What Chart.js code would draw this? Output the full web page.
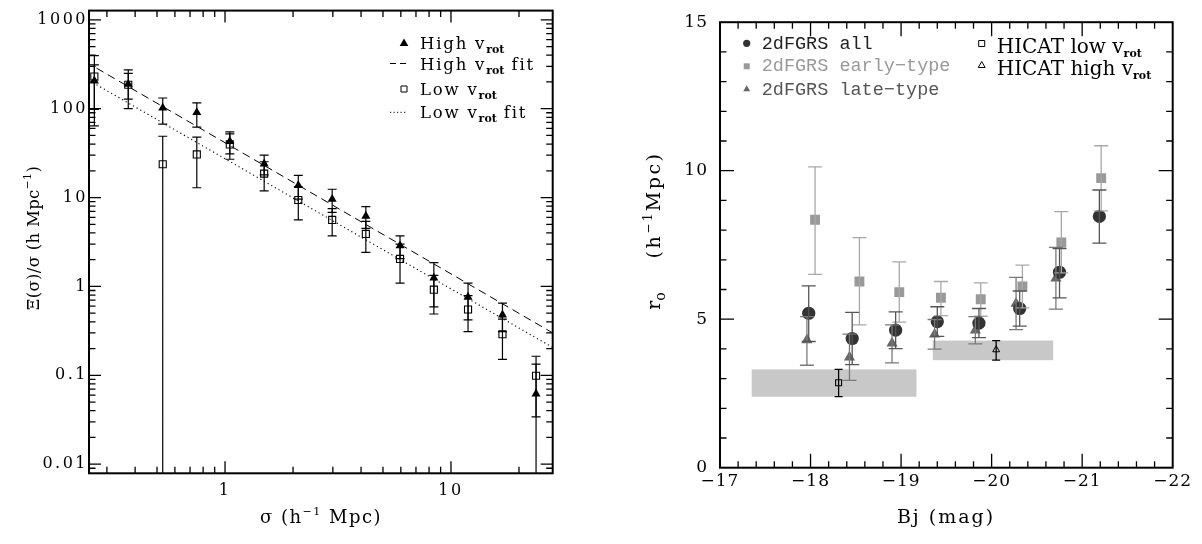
<!DOCTYPE html>
<html>
<head>
<meta charset="utf-8">
<script src="https://cdn.jsdelivr.net/npm/chart.js@4.4.1/dist/chart.umd.min.js"></script>
<style>
  html, body { margin: 0; padding: 0; background: #fff; }
  #wrap { position: relative; width: 1202px; height: 544px; }
  .box { position: absolute; top: 0; height: 544px; }
  #boxL { left: 0; width: 600px; }
  #boxR { left: 600px; width: 602px; }
</style>
</head>
<body>
<div id="wrap">
  <div class="box" id="boxL"><canvas id="cL"></canvas></div>
  <div class="box" id="boxR"><canvas id="cR"></canvas></div>
</div>
<script>
// ---- left panel: projected correlation function ----
const sigma   = [0.264, 0.373, 0.53, 0.75, 1.05, 1.49, 2.11, 2.98, 4.2, 5.95, 8.4, 11.9, 16.9, 23.8];
const highV   = [206, 189, 102, 91, 43, 24, 13.7, 9.6, 6.2, 2.88, 1.25, 0.76, 0.48, 0.062];
const highHi  = [312, 250, 132, 116, 55, 30, 17.8, 12.4, 7.9, 3.7, 1.85, 1.09, 0.65, 0.134];
const highLo  = [98, 128, 67, 62, 31, 18, 9.6, 6.8, 4.5, 2.06, 0.59, 0.42, 0.31, null];
const lowV    = [230, 186, 23.7, 30.6, 39.6, 18.6, 9.4, 5.6, 3.9, 2.04, 0.92, 0.55, 0.29, 0.099];
const lowHi   = [396, 274, 49, 48, 52, 25.3, 13.2, 7.5, 5.4, 3.0, 1.33, 0.79, 0.43, 0.164];
const lowLo   = [64, 100, null, 12.9, 27, 11.9, 5.6, 3.7, 2.42, 1.09, 0.49, 0.31, 0.151, 0.034];
// power-law fits, end points
const highFitX = [0.27, 28.2];
const highFitY = [286, 0.30];
const lowFitX  = [0.27, 28.2];
const lowFitY  = [186, 0.206];

// ---- right panel: r0 against absolute magnitude ----
const magAll    = [-17.98, -18.46, -18.94, -19.40, -19.86, -20.31, -20.75, -21.19];
const r0All     = [5.20, 4.35, 4.63, 4.92, 4.87, 5.36, 6.58, 8.46];
const r0AllHi   = [6.12, 5.23, 5.25, 5.42, 5.36, 5.95, 7.38, 9.35];
const r0AllLo   = [4.25, 3.47, 4.01, 4.42, 4.38, 4.77, 5.72, 7.56];
const magEarly  = [-18.05, -18.54, -18.98, -19.44, -19.88, -20.34, -20.77, -21.21];
const r0Early   = [8.35, 6.27, 5.91, 5.72, 5.67, 6.10, 7.58, 9.75];
const r0EarlyHi = [10.13, 7.75, 6.93, 6.27, 6.22, 6.82, 8.62, 10.84];
const r0EarlyLo = [6.51, 4.81, 4.90, 5.12, 5.10, 5.38, 6.56, 8.65];
const magLate   = [-17.96, -18.43, -18.90, -19.37, -19.82, -20.27, -20.71];
const r0Late    = [4.30, 3.72, 4.19, 4.49, 4.63, 5.53, 6.38];
const r0LateHi  = [5.09, 4.50, 4.81, 4.99, 5.09, 6.41, 7.42];
const r0LateLo  = [3.45, 2.94, 3.53, 3.99, 4.17, 4.65, 5.34];
const magHicat  = [-18.31, -20.05];
const r0Hicat   = [2.86, 3.97];
const r0HicatHi = [3.31, 4.28];
const r0HicatLo = [2.39, 3.62];
const bandFrom  = [-17.35, -19.35];
const bandTo    = [-19.17, -20.68];

const SERIF = "'DejaVu Serif', serif";
Chart.defaults.font.family = SERIF;
Chart.defaults.color = '#000';

const pts = (xs, ys) => xs.map((x, i) => ({ x, y: ys[i] }));
const isMajorLog = v => { const l = Math.log10(v); return Math.abs(l - Math.round(l)) < 1e-6; };
const isWholeLog = v => {
  const e = Math.floor(Math.log10(v) + 1e-9);
  const m = v / Math.pow(10, e);
  return Math.abs(m - Math.round(m)) < 1e-6;
};
const isInt = v => Math.abs(v - Math.round(v)) < 1e-6;

// text with sub/superscripts: parts = [text, font, dy, color, spacing]
function rich(ctx, x, y, parts, spacing, center) {
  ctx.save();
  ctx.textBaseline = 'alphabetic';
  ctx.textAlign = 'left';
  const sp = p => (p[4] != null ? p[4] : (spacing || 0)) + 'px';
  const hasLS = 'letterSpacing' in ctx;
  let w = 0;
  parts.forEach(p => {
    ctx.font = p[1];
    if (hasLS) ctx.letterSpacing = sp(p);
    w += ctx.measureText(p[0]).width;
  });
  let cx = center ? x - w / 2 : x;
  parts.forEach(p => {
    ctx.font = p[1];
    if (hasLS) ctx.letterSpacing = sp(p);
    ctx.fillStyle = p[3] || '#000';
    ctx.fillText(p[0], cx, y + (p[2] || 0));
    cx += ctx.measureText(p[0]).width;
  });
  ctx.restore();
}

function richRot(ctx, x, y, parts, spacing) {
  ctx.save();
  ctx.translate(x, y);
  ctx.rotate(-Math.PI / 2);
  rich(ctx, 0, 0, parts, spacing, true);
  ctx.restore();
}

function mark(ctx, kind, x, y, r, fill, stroke, lw) {
  ctx.save();
  ctx.beginPath();
  if (kind === 'tri') {
    ctx.moveTo(x, y - r);
    ctx.lineTo(x + r * 0.866, y + r * 0.5);
    ctx.lineTo(x - r * 0.866, y + r * 0.5);
    ctx.closePath();
  } else if (kind === 'sq') {
    ctx.rect(x - r, y - r, 2 * r, 2 * r);
  } else {
    ctx.arc(x, y, r, 0, Math.PI * 2);
  }
  if (fill) { ctx.fillStyle = fill; ctx.fill(); }
  if (stroke) { ctx.strokeStyle = stroke; ctx.lineWidth = lw || 1; ctx.stroke(); }
  ctx.restore();
}

function drawErrors(chart, list) {
  const { ctx, chartArea: a, scales: { x, y } } = chart;
  ctx.save();
  ctx.beginPath();
  ctx.rect(a.left, a.top, a.width, a.height);
  ctx.clip();
  list.forEach(e => {
    ctx.strokeStyle = e.color;
    ctx.lineWidth = e.width;
    ctx.beginPath();
    e.xs.forEach((xv, i) => {
      const px = x.getPixelForValue(xv);
      const top = y.getPixelForValue(e.hi[i]);
      const bot = e.lo[i] == null ? a.bottom : y.getPixelForValue(e.lo[i]);
      ctx.moveTo(px, top);
      ctx.lineTo(px, bot);
      ctx.moveTo(px - e.cap, top);
      ctx.lineTo(px + e.cap, top);
      if (e.lo[i] != null) { ctx.moveTo(px - e.cap, bot); ctx.lineTo(px + e.cap, bot); }
    });
    ctx.stroke();
  });
  ctx.restore();
}

function drawFrame(chart, o) {
  const { ctx, chartArea: a, scales: { x, y } } = chart;
  ctx.save();
  ctx.strokeStyle = '#000';
  ctx.lineWidth = 1.3;
  ctx.beginPath();
  x.ticks.forEach(t => {
    if (!o.keepX(t.value)) return;
    const px = x.getPixelForValue(t.value);
    if (px < a.left + 1 || px > a.right - 1) return;
    const len = o.majorX(t.value) ? o.major : o.minor;
    ctx.moveTo(px, a.bottom); ctx.lineTo(px, a.bottom - len);
    ctx.moveTo(px, a.top); ctx.lineTo(px, a.top + len);
  });
  y.ticks.forEach(t => {
    if (!o.keepY(t.value)) return;
    const py = y.getPixelForValue(t.value);
    if (py < a.top + 1 || py > a.bottom - 1) return;
    const len = o.majorY(t.value) ? o.major : o.minor;
    ctx.moveTo(a.left, py); ctx.lineTo(a.left + len, py);
    ctx.moveTo(a.right, py); ctx.lineTo(a.right - len, py);
  });
  ctx.stroke();
  ctx.lineWidth = 2;
  ctx.strokeRect(a.left, a.top, a.width, a.height);
  ctx.restore();
}

// ================= left chart =================
const subFont = 'bold 11px ' + SERIF;
const legFontL = '16.5px ' + SERIF;

const leftPlugin = {
  id: 'leftPanel',
  beforeDraw(chart) { if ('letterSpacing' in chart.ctx) chart.ctx.letterSpacing = '2.5px'; },
  beforeDatasetsDraw(chart) {
    drawErrors(chart, [
      { xs: sigma, hi: lowHi, lo: lowLo, color: '#000', width: 1.2, cap: 4.5 },
      { xs: sigma, hi: highHi, lo: highLo, color: '#000', width: 1.2, cap: 4.5 }
    ]);
  },
  afterDraw(chart) {
    const ctx = chart.ctx;
    if ('letterSpacing' in ctx) ctx.letterSpacing = '0px';
    drawFrame(chart, {
      keepX: isWholeLog, keepY: isWholeLog, majorX: isMajorLog, majorY: isMajorLog, major: 12, minor: 6.5
    });
    // legend
    mark(ctx, 'tri', 404, 43.5, 5, '#000');
    rich(ctx, 420, 49.3, [['High v', legFontL], ['rot', subFont, 3.5, null, 0]], 1.8);
    ctx.save();
    ctx.strokeStyle = '#000'; ctx.lineWidth = 1; ctx.setLineDash([6, 4]);
    ctx.beginPath(); ctx.moveTo(390, 63.5); ctx.lineTo(406, 63.5); ctx.stroke();
    ctx.setLineDash([1.2, 2.3]);
    ctx.beginPath(); ctx.moveTo(390, 112.3); ctx.lineTo(406, 112.3); ctx.stroke();
    ctx.restore();
    rich(ctx, 420, 70, [['High v', legFontL], ['rot', subFont, 3.5, null, 0], [' fit', legFontL]], 1.8);
    mark(ctx, 'sq', 404, 89, 3, null, '#000', 1);
    rich(ctx, 420, 95, [['Low v', legFontL], ['rot', subFont, 3.5, null, 0]], 1.8);
    rich(ctx, 420, 118.3, [['Low v', legFontL], ['rot', subFont, 3.5, null, 0], [' fit', legFontL]], 1.8);
    // axis titles
    const tf = '18px ' + SERIF, ts = '11px ' + SERIF;
    rich(ctx, 321, 523, [['σ (h', tf], ['−1', ts, -8], [' Mpc)', tf]], 1.5, true);
    const yf = '16.5px ' + SERIF;
    richRot(ctx, 39, 238, [['Ξ(σ)/σ (h Mpc', yf], ['−1', ts, -8], [')', yf]], 0.3);
  }
};

new Chart(document.getElementById('cL'), {
  type: 'scatter',
  data: {
    datasets: [
      { data: pts(sigma, highV), pointStyle: 'triangle', pointRadius: 5.2, backgroundColor: '#000',
        borderColor: '#000', borderWidth: 0 },
      { data: pts(sigma, lowV), pointStyle: 'rect', pointRadius: 5, backgroundColor: 'rgba(0,0,0,0)',
        borderColor: '#000', borderWidth: 1.1 },
      { data: pts(highFitX, highFitY), showLine: true, pointRadius: 0, borderColor: '#000',
        borderWidth: 1, borderDash: [8, 5], fill: false },
      { data: pts(lowFitX, lowFitY), showLine: true, pointRadius: 0, borderColor: '#000',
        borderWidth: 1.1, borderDash: [1.2, 3], fill: false }
    ]
  },
  options: {
    responsive: true,
    maintainAspectRatio: false,
    animation: false,
    events: [],
    layout: { autoPadding: false, padding: { left: 0, top: 9, right: 47.3, bottom: 0 } },
    plugins: { legend: { display: false }, tooltip: { enabled: false } },
    scales: {
      x: {
        type: 'logarithmic', min: 0.25, max: 28.2,
        grid: { display: false, drawTicks: false }, border: { display: false },
        ticks: { autoSkip: false, maxRotation: 0, padding: 8, font: { size: 16 }, color: '#000',
          callback: v => isMajorLog(v) ? String(+v.toPrecision(1)) : '' },
        afterFit: s => { s.height = 544 - 473.3; }
      },
      y: {
        type: 'logarithmic', min: 0.0079, max: 1270,
        grid: { display: false, drawTicks: false }, border: { display: false },
        ticks: { autoSkip: false, padding: 1, font: { size: 16 }, color: '#000',
          callback: v => isMajorLog(v) ? String(+v.toPrecision(1)) : '' },
        afterFit: s => { s.width = 89; }
      }
    }
  },
  plugins: [leftPlugin]
});

// ================= right chart =================
const monoFont = "18.5px 'Liberation Mono', monospace";
const hiFont = '20px ' + SERIF;

const rightPlugin = {
  id: 'rightPanel',
  beforeDraw(chart) { if ('letterSpacing' in chart.ctx) chart.ctx.letterSpacing = '1px'; },
  beforeDatasetsDraw(chart) {
    const { ctx, scales: { x, y } } = chart;
    ctx.save();
    ctx.fillStyle = '#c8c8c8';
    bandFrom.forEach((b, i) => {
      const x0 = x.getPixelForValue(b), x1 = x.getPixelForValue(bandTo[i]);
      const y0 = y.getPixelForValue(r0HicatHi[i]), y1 = y.getPixelForValue(r0HicatLo[i]);
      ctx.fillRect(Math.min(x0, x1), y0, Math.abs(x1 - x0), y1 - y0);
    });
    ctx.restore();
  },
  afterDatasetsDraw(chart) {
    drawErrors(chart, [
      { xs: magEarly, hi: r0EarlyHi, lo: r0EarlyLo, color: '#a8a8a8', width: 1.3, cap: 7 },
      { xs: magLate, hi: r0LateHi, lo: r0LateLo, color: '#7a7a7a', width: 1.3, cap: 7 },
      { xs: magAll, hi: r0AllHi, lo: r0AllLo, color: '#555', width: 1.3, cap: 7 },
      { xs: magHicat, hi: r0HicatHi, lo: r0HicatLo, color: '#000', width: 1.3, cap: 4 }
    ]);
  },
  afterDraw(chart) {
    const ctx = chart.ctx;
    if ('letterSpacing' in ctx) ctx.letterSpacing = '0px';
    drawFrame(chart, {
      keepX: () => true, keepY: () => true,
      majorX: isInt, majorY: v => isInt(v / 5), major: 14, minor: 6.5
    });
    // legend, panel-local coordinates (canvas starts at x=600)
    mark(ctx, 'circ', 146.7, 43.3, 3.6, '#333');
    rich(ctx, 161.7, 48.5, [['2dFGRS all', monoFont, 0, '#222']], 0);
    mark(ctx, 'sq', 146.7, 66.3, 3, '#999');
    rich(ctx, 161.7, 71.3, [['2dFGRS early\u2212type', monoFont, 0, '#999']], 0);
    mark(ctx, 'tri', 146.7, 89.3, 4, '#666');
    rich(ctx, 161.7, 94.5, [['2dFGRS late\u2212type', monoFont, 0, '#555']], 0);
    mark(ctx, 'sq', 381.7, 43.5, 3, null, '#000', 1);
    rich(ctx, 396.7, 53, [['HICAT low v', hiFont], ['rot', subFont, 4]], 0);
    mark(ctx, 'tri', 381.7, 65.5, 4, null, '#000', 1);
    rich(ctx, 396.7, 75, [['HICAT high v', hiFont], ['rot', subFont, 4]], 0);
    // axis titles
    rich(ctx, 346, 523.3, [['Bj (mag)', '19px ' + SERIF]], 2, true);
    const yf = '19px ' + SERIF;
    richRot(ctx, 60, 205, [['(h', yf], ['−1', '12px ' + SERIF, -8], ['Mpc)', yf]], 2.5);
    richRot(ctx, 60, 301, [['r', yf], ['o', '14px ' + SERIF, 5]], 0);
  }
};

new Chart(document.getElementById('cR'), {
  type: 'scatter',
  data: {
    datasets: [
      { data: pts(magAll, r0All), pointStyle: 'circle', pointRadius: 6.6, backgroundColor: '#333',
        borderColor: '#333', borderWidth: 0 },
      { data: pts(magLate, r0Late), pointStyle: 'triangle', pointRadius: 6.4, backgroundColor: '#666',
        borderColor: '#666', borderWidth: 0 },
      { data: pts(magEarly, r0Early), pointStyle: 'rect', pointRadius: 7, backgroundColor: '#999',
        borderColor: '#999', borderWidth: 0 },
      { data: pts(magHicat.slice(0, 1), r0Hicat.slice(0, 1)), pointStyle: 'rect', pointRadius: 4.2,
        backgroundColor: 'rgba(0,0,0,0)', borderColor: '#000', borderWidth: 1.1 },
      { data: pts(magHicat.slice(1), r0Hicat.slice(1)), pointStyle: 'triangle', pointRadius: 4,
        backgroundColor: 'rgba(0,0,0,0)', borderColor: '#000', borderWidth: 1 }
    ]
  },
  options: {
    responsive: true,
    maintainAspectRatio: false,
    animation: false,
    events: [],
    layout: { autoPadding: false, padding: { left: 0, top: 10.7, right: 29.3, bottom: 0 } },
    plugins: { legend: { display: false }, tooltip: { enabled: false } },
    scales: {
      x: {
        type: 'linear', min: -22, max: -17, reverse: true,
        grid: { display: false, drawTicks: false }, border: { display: false },
        ticks: { stepSize: 0.2, autoSkip: false, maxRotation: 0, padding: 4, font: { size: 17 }, color: '#000',
          callback: v => isInt(v) ? '\u2212' + Math.abs(Math.round(v)) : '' },
        afterFit: s => { s.height = 544 - 467.7; }
      },
      y: {
        type: 'linear', min: 0, max: 15,
        grid: { display: false, drawTicks: false }, border: { display: false },
        ticks: { stepSize: 1, autoSkip: false, padding: 12, font: { size: 17 }, color: '#000',
          callback: v => isInt(v / 5) ? String(Math.round(v)) : '' },
        afterFit: s => { s.width = 120; }
      }
    }
  },
  plugins: [rightPlugin]
});
</script>
</body>
</html>
